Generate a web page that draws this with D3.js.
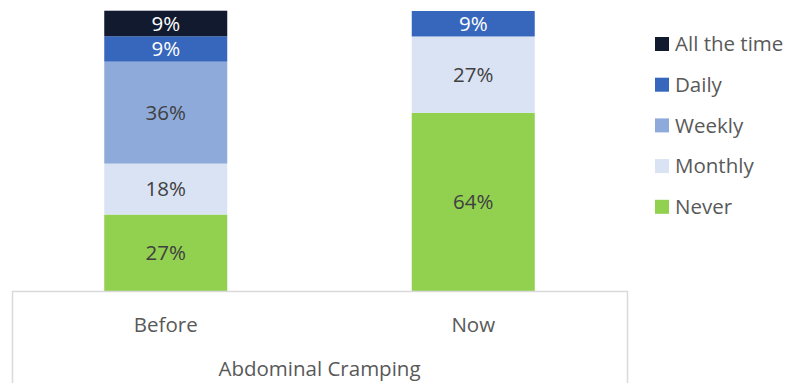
<!DOCTYPE html>
<html>
<head>
<meta charset="utf-8">
<script src="https://cdn.jsdelivr.net/npm/d3@7"></script>
<style>
  html, body { margin: 0; padding: 0; background: #ffffff; }
  svg { display: block; }
  text { font-family: "Open Sans", "Noto Sans", sans-serif; }
</style>
</head>
<body>
<svg id="chart" width="793" height="383"></svg>
<script>
// Stacked frequency shares for abdominal cramping, before and now
const categories = ["Before", "Now"];
const groupTitle = "Abdominal Cramping";
const seriesNames = ["Never", "Monthly", "Weekly", "Daily", "All the time"];
const never      = [0.273, 0.636];
const monthly    = [0.182, 0.273];
const weekly     = [0.364, 0];
const daily      = [0.091, 0.091];
const allTheTime = [0.091, 0];
const seriesColors = ["#92d050", "#dae3f3", "#8eaadb", "#3767bd", "#111a2e"];
const labelColors  = ["#404040", "#404040", "#404040", "#ffffff", "#ffffff"];

const rows = categories.map((c, i) => ({
  category: c,
  "Never": never[i],
  "Monthly": monthly[i],
  "Weekly": weekly[i],
  "Daily": daily[i],
  "All the time": allTheTime[i]
}));

const svg = d3.select("#chart");
const plot = { left: 12, right: 627, top: 11, bottom: 291 };

const x = d3.scaleBand()
  .domain(categories)
  .range([plot.left, plot.right])
  .paddingInner(0.6)
  .paddingOuter(0.3);

const y = d3.scaleLinear()
  .domain([0, 1])
  .range([plot.bottom, plot.top]);

const color = d3.scaleOrdinal().domain(seriesNames).range(seriesColors);
const labelColor = d3.scaleOrdinal().domain(seriesNames).range(labelColors);
const pct = d3.format(".0%");

const stacked = d3.stack().keys(seriesNames)(rows);

const layers = svg.append("g").selectAll("g")
  .data(stacked)
  .join("g")
  .attr("fill", d => color(d.key));

layers.selectAll("rect")
  .data(d => d.map(p => ({ key: d.key, p })))
  .join("rect")
  .attr("x", d => x(d.p.data.category))
  .attr("y", d => y(d.p[1]))
  .attr("width", x.bandwidth())
  .attr("height", d => y(d.p[0]) - y(d.p[1]));

// value labels centred in each non-empty segment
svg.append("g").selectAll("text")
  .data(stacked.flatMap(s => s.map(p => ({ key: s.key, p }))).filter(d => d.p[1] - d.p[0] > 0))
  .join("text")
  .attr("x", d => x(d.p.data.category) + x.bandwidth() / 2)
  .attr("y", d => (y(d.p[0]) + y(d.p[1])) / 2)
  .attr("dy", "0.36em")
  .attr("text-anchor", "middle")
  .attr("font-size", 20.5)
  .attr("fill", d => labelColor(d.key))
  .text(d => pct(d.p.data[d.key]));

// category axis frame
const frame = d3.path();
frame.moveTo(plot.left + 0.5, 383);
frame.lineTo(plot.left + 0.5, plot.bottom + 0.5);
frame.lineTo(plot.right + 0.5, plot.bottom + 0.5);
frame.lineTo(plot.right + 0.5, 383);
svg.append("path")
  .attr("d", frame.toString())
  .attr("fill", "none")
  .attr("stroke", "#d9d9d9")
  .attr("stroke-width", 1.5);

svg.append("g").selectAll("text")
  .data(categories)
  .join("text")
  .attr("x", d => x(d) + x.bandwidth() / 2)
  .attr("y", 331.5)
  .attr("text-anchor", "middle")
  .attr("font-size", 20.5)
  .attr("fill", "#595959")
  .text(d => d);

svg.append("text")
  .attr("x", (plot.left + plot.right) / 2)
  .attr("y", 375.5)
  .attr("text-anchor", "middle")
  .attr("font-size", 20.5)
  .attr("fill", "#595959")
  .text(groupTitle);

// legend, top entry is the top of the stack
const legendItems = seriesNames.slice().reverse();
const legend = svg.append("g").selectAll("g")
  .data(legendItems)
  .join("g")
  .attr("transform", (d, i) => `translate(655, ${44 + i * 40.7})`);

legend.append("rect")
  .attr("x", 0)
  .attr("y", -7)
  .attr("width", 14)
  .attr("height", 14)
  .attr("fill", d => color(d));

legend.append("text")
  .attr("x", 20)
  .attr("y", 0)
  .attr("dy", "0.36em")
  .attr("font-size", 20.5)
  .attr("fill", "#595959")
  .text(d => d);
</script>
</body>
</html>
